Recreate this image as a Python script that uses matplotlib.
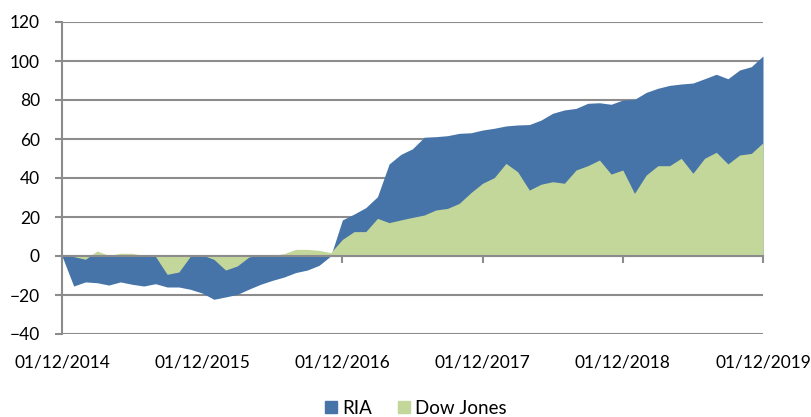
import numpy as np
import matplotlib
matplotlib.use("Agg")
import matplotlib.pyplot as plt
from matplotlib.patches import Patch

# monthly values, Dec 2014 .. Dec 2019
months = np.arange(61)
ria = [0, -15.4, -13.3, -13.7, -14.9, -13.3, -14.5, -15.4, -14.2, -15.9,
       -15.9, -17.1, -19.0, -22.2, -21.0, -19.7, -17.0, -14.5, -12.5, -10.8,
       -8.5, -7.2, -4.8, 0.0, 18.5, 21.5, 24.8, 30.4, 47.2, 52.1,
       55.0, 60.9, 61.2, 61.7, 62.9, 63.2, 64.6, 65.5, 66.7, 67.2,
       67.4, 69.7, 73.2, 74.9, 75.7, 78.3, 78.6, 77.8, 80.0, 80.3,
       83.9, 86.0, 87.5, 88.2, 88.7, 90.9, 93.2, 90.9, 95.4, 97.1, 102.6]
dow = [0, -0.3, -1.7, 2.6, 0.3, 1.4, 1.4, 0.2, -0.2, -9.4,
       -8.2, 0.0, 0.5, -1.7, -7.2, -5.1, -0.5, 0.5, 0.3, 1.2,
       3.4, 3.4, 2.9, 1.7, 8.5, 12.5, 12.5, 19.3, 17.1, 18.5,
       19.8, 21.0, 23.6, 24.4, 27.0, 32.5, 37.3, 40.2, 47.5, 43.2,
       33.8, 36.8, 38.1, 37.3, 44.1, 46.3, 49.2, 42.0, 44.1, 32.1,
       41.5, 46.3, 46.3, 50.1, 42.4, 50.1, 53.2, 47.2, 51.8, 52.6, 58.1]
tick_pos = [0, 12, 24, 36, 48, 60]
tick_labels = ["01/12/2014", "01/12/2015", "01/12/2016",
               "01/12/2017", "01/12/2018", "01/12/2019"]

blue = "#4674a8"
green = "#c4d79b"
grey = "#8c8c8c"

plt.rcParams["font.family"] = ["Lato", "DejaVu Sans"]

fig = plt.figure(figsize=(8.11, 4.17), dpi=100)
ax = fig.add_axes([62 / 811, 1 - 334 / 417, 701 / 811, 312 / 417])

ax.fill_between(months, 0, ria, color=blue, linewidth=0, zorder=2)
ax.fill_between(months, 0, dow, color=green, linewidth=0, zorder=3)

ax.set_xlim(0, 60)
ax.set_ylim(-40, 120)
ax.set_yticks(range(-40, 121, 20))
ax.yaxis.grid(True, color=grey, linewidth=1.5, zorder=1)
ax.set_axisbelow(True)

for s in ["top", "right"]:
    ax.spines[s].set_visible(False)
ax.spines["left"].set_color(grey)
ax.spines["left"].set_linewidth(1.5)
ax.spines["bottom"].set_position(("data", 0))
ax.spines["bottom"].set_color(grey)
ax.spines["bottom"].set_linewidth(1.5)
ax.spines["bottom"].set_zorder(4)

ax.set_xticks(tick_pos)
ax.set_xticklabels(tick_labels)
ax.tick_params(axis="x", direction="out", length=5, width=1.5, color=grey,
               pad=66, labelsize=12.5)
ax.tick_params(axis="y", direction="out", length=5, width=1.5, color=grey,
               pad=11, labelsize=12.5)

handles = [Patch(color=blue, label="RIA"), Patch(color=green, label="Dow Jones")]
fig.legend(handles=handles, loc="center", bbox_to_anchor=(416 / 811, 1 - 408 / 417),
           ncol=2, frameon=False, fontsize=13.5, handlelength=0.6, handleheight=0.6,
           handletextpad=0.3, columnspacing=1.4)

fig.savefig("out.png", dpi=100)
